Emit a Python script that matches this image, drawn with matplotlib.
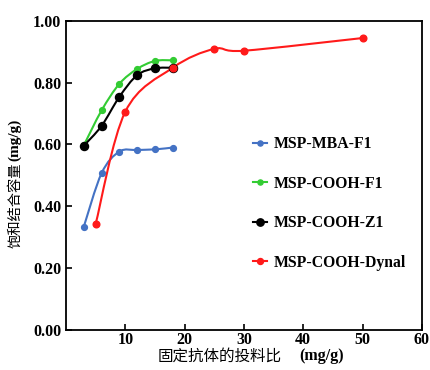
import numpy as np
import matplotlib
matplotlib.use('Agg')
import matplotlib.pyplot as plt
from matplotlib.path import Path
from matplotlib.patches import PathPatch
from matplotlib.lines import Line2D

plt.rcParams['font.family'] = ['Liberation Serif', 'Noto Sans CJK SC']

# Datos
x_mba = [3, 6, 9, 12, 15, 18]
y_mba = [0.334, 0.507, 0.577, 0.582, 0.584, 0.590]

x_f1 = [3, 6, 9, 12, 15, 18]
y_f1 = [0.597, 0.710, 0.796, 0.844, 0.870, 0.872]

x_z1 = [3, 6, 9, 12, 15, 18]
y_z1 = [0.596, 0.660, 0.754, 0.824, 0.846, 0.848]

x_dynal = [5, 10, 18, 25, 30, 50]
y_dynal = [0.343, 0.706, 0.848, 0.909, 0.903, 0.944]

etiquetas = ['MSP-MBA-F1', 'MSP-COOH-F1', 'MSP-COOH-Z1', 'MSP-COOH-Dynal']
colores = ['#4472C4', '#33CC33', 'black', '#FF1A1A']
tam_marcador = [4.2, 4.2, 5.8, 4.8]


def curva_suave(ax, xs, ys, color, lw=1.5):
    # Catmull-Rom convertido a Bezier cubico, pasa por todos los puntos
    xs = np.asarray(xs, float)
    ys = np.asarray(ys, float)
    verts = [(xs[0], ys[0])]
    codes = [Path.MOVETO]
    n = len(xs)
    for i in range(n - 1):
        p0 = (xs[max(i - 1, 0)], ys[max(i - 1, 0)])
        p1 = (xs[i], ys[i])
        p2 = (xs[i + 1], ys[i + 1])
        p3 = (xs[min(i + 2, n - 1)], ys[min(i + 2, n - 1)])
        c1 = (p1[0] + (p2[0] - p0[0]) / 6, p1[1] + (p2[1] - p0[1]) / 6)
        c2 = (p2[0] - (p3[0] - p1[0]) / 6, p2[1] - (p3[1] - p1[1]) / 6)
        verts += [c1, c2, p2]
        codes += [Path.CURVE4] * 3
    ax.add_patch(PathPatch(Path(verts, codes), fill=False, edgecolor=color, lw=lw))


fig = plt.figure(figsize=(4.3, 3.7), dpi=100)
ax = fig.add_axes([0.1535, 0.108, 0.8275, 0.836])

series = [(x_mba, y_mba), (x_f1, y_f1), (x_z1, y_z1), (x_dynal, y_dynal)]
handles = []
for (xs, ys), lab, c, ms in zip(series, etiquetas, colores, tam_marcador):
    curva_suave(ax, xs, ys, c)
    ax.plot(xs, ys, 'o', color=c, ms=ms, zorder=3)
    handles.append(Line2D([0], [0], color=c, lw=1.5, marker='o', ms=ms - 0.5, label=lab))

ax.set_xlim(0, 60)
ax.set_ylim(0, 1.0)
ax.set_xticks([10, 20, 30, 40, 50, 60])
ax.set_yticks([0, 0.2, 0.4, 0.6, 0.8, 1.0])
ax.set_yticklabels(['0.00', '0.20', '0.40', '0.60', '0.80', '1.00'])
ax.tick_params(direction='in', length=4, width=1.2, labelsize=11.5)
ax.tick_params(axis='x', pad=1.5)
ax.tick_params(axis='y', pad=3.5)
for t in ax.get_xticklabels() + ax.get_yticklabels():
    t.set_fontweight('bold')
for s in ax.spines.values():
    s.set_linewidth(1.3)

# Etiquetas de ejes: chino normal + unidades en negrita
cjk = ['Noto Sans CJK SC', 'DejaVu Sans']
fig.text(158 / 430, 1 - 356 / 370, '固定抗体的投料比', family=cjk, fontsize=11.2,
         ha='left', va='center')
fig.text(299 / 430, 1 - 356 / 370, '(mg/g)', fontweight='bold', fontsize=11.5,
         ha='left', va='center')
fig.text(15 / 430, 1 - 248 / 370, '饱和结合容量', family=cjk, fontsize=10.3,
         rotation=90, ha='center', va='bottom')
fig.text(15 / 430, 1 - 161 / 370, '(mg/g)', fontweight='bold', fontsize=11,
         rotation=90, ha='center', va='bottom')

leg = ax.legend(handles=handles, loc='upper left', bbox_to_anchor=(0.487, 0.672),
                frameon=False, handlelength=0.85, handletextpad=0.45,
                labelspacing=1.5, prop={'weight': 'bold', 'size': 11.3})

fig.savefig('out.png', dpi=100)
